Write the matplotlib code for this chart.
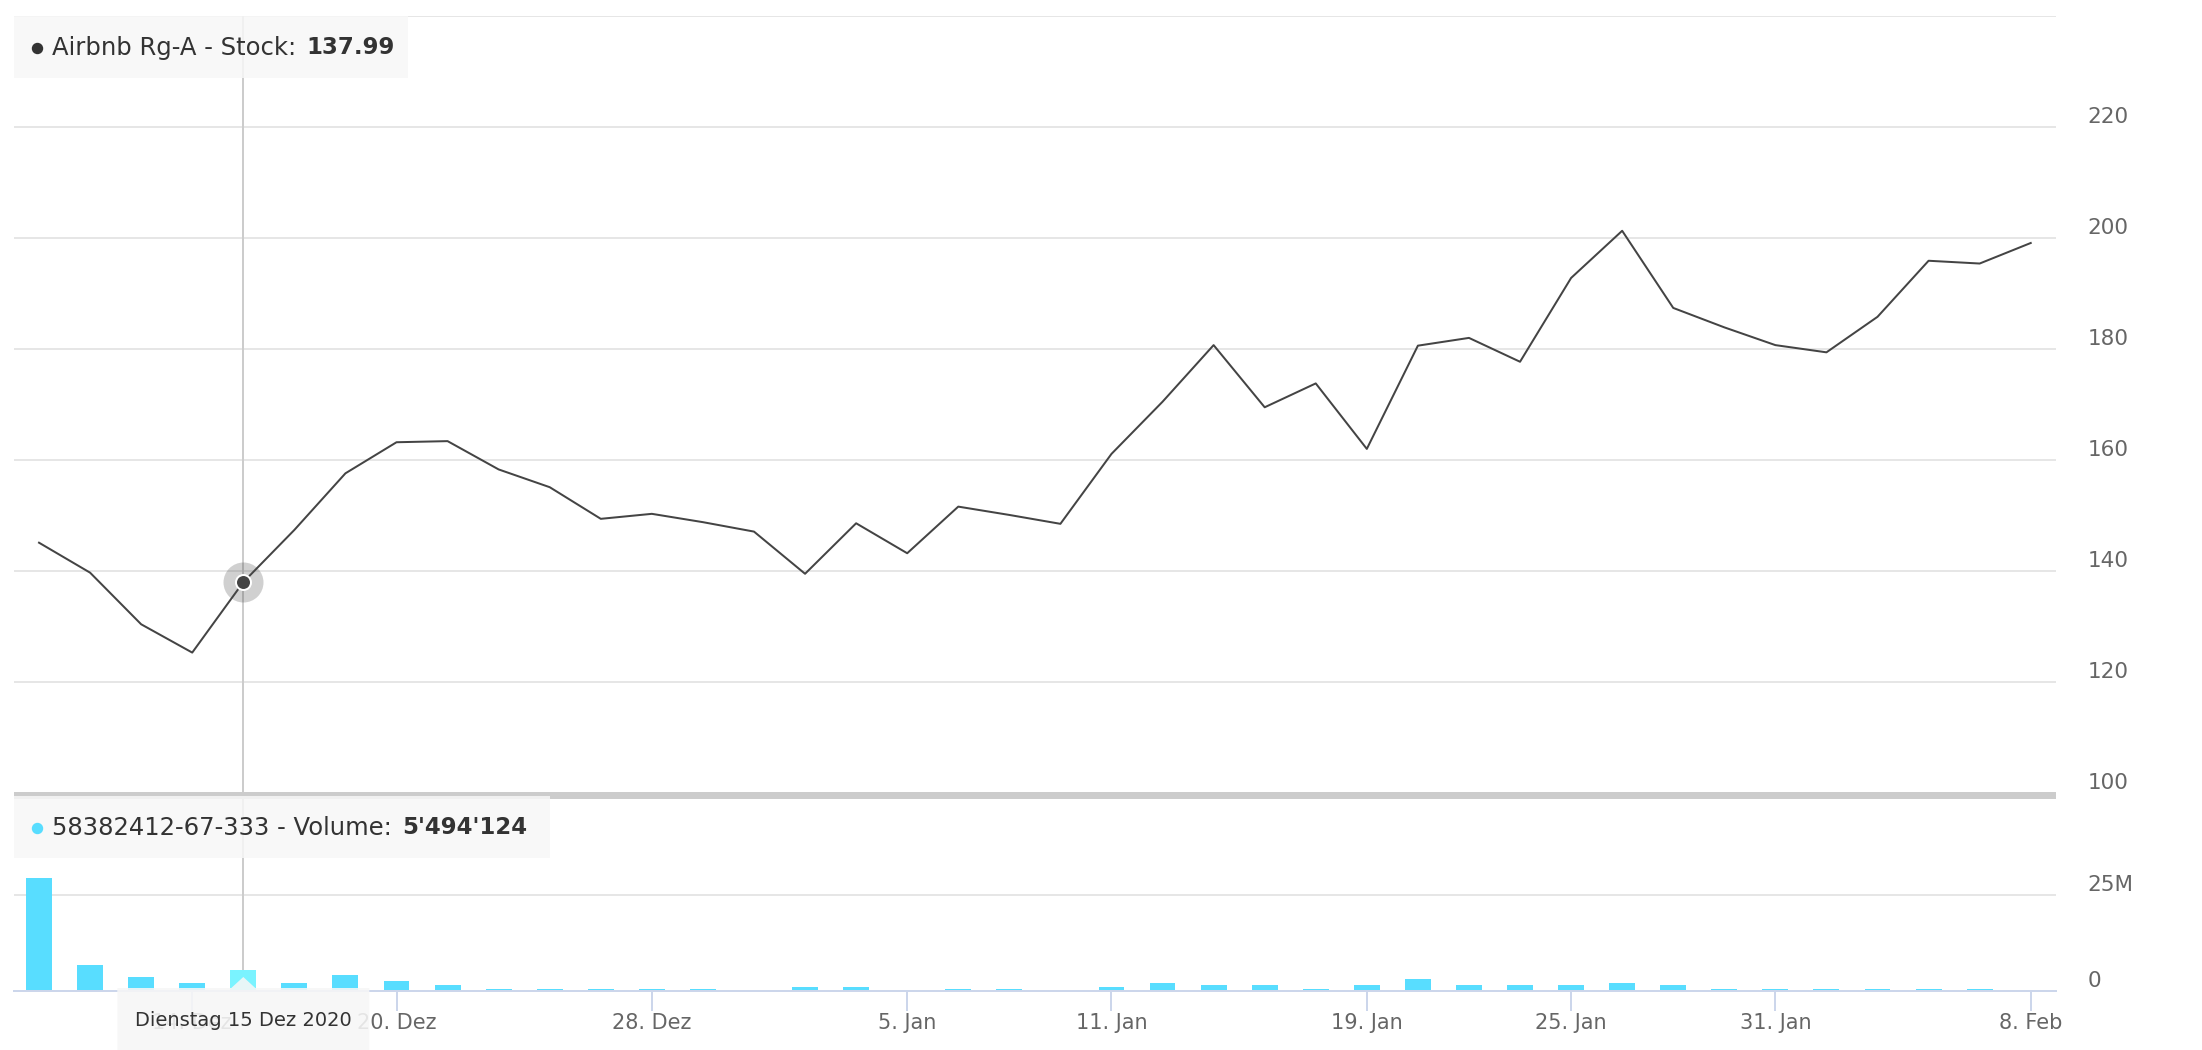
import numpy as np
import matplotlib
matplotlib.use("Agg")
import matplotlib.pyplot as plt
from matplotlib.patches import Rectangle, Polygon
from matplotlib.lines import Line2D
from matplotlib.transforms import ScaledTranslation

# ---------- Data ----------
price = [145.1, 139.7, 130.4, 125.3, 137.99, 147.4, 157.6, 163.2, 163.4, 158.3,
         155.1, 149.4, 150.3, 148.8, 147.1, 139.5, 148.6, 143.2, 151.6, 150.1,
         148.5, 161.1, 170.5, 180.7, 169.5, 173.8, 162.0, 180.6, 182.0, 177.7,
         192.8, 201.3, 187.4, 183.9, 180.7, 179.4, 185.8, 195.9, 195.4, 199.1]
# volume in millions
volume = [29.3, 6.8, 3.6, 2.1, 5.494124, 2.1, 4.2, 2.6, 1.6, 0.5,
          0.5, 0.5, 0.5, 0.5, 0.0, 1.0, 1.0, 0.0, 0.5, 0.5,
          0.0, 1.0, 2.1, 1.6, 1.6, 0.5, 1.6, 3.1, 1.6, 1.6,
          1.6, 2.1, 1.6, 0.5, 0.5, 0.5, 0.5, 0.5, 0.5, 0.0]
tick_pos = [3, 7, 12, 17, 21, 26, 30, 34, 39]
tick_labels = ["14. Dez", "20. Dez", "28. Dez", "5. Jan", "11. Jan",
               "19. Jan", "25. Jan", "31. Jan", "8. Feb"]
price_ticks = [100, 120, 140, 160, 180, 200, 220, 240]
price_tick_labels = ["100", "120", "140", "160", "180", "200", "220", ""]
vol_ticks = [0, 25]
vol_tick_labels = ["0", "25M"]
sel = 4  # hovered point
sel_date = "Dienstag 15 Dez 2020"
stock_name = "Airbnb Rg-A - Stock:"
vol_name = "58382412-67-333 - Volume:"
vol_value = "5'494'124"

# ---------- Styles ----------
LINE = "#444444"
BAR = "#58ddff"
BAR_HOVER = "#7af3ff"
GRID = "#e6e6e6"
LABEL = "#666666"
AXIS = "#ccd6eb"
TXT = "#333333"
PX = 0.72  # one pixel in points at dpi 100

W, H = 2202, 1050
fig = plt.figure(figsize=(W / 100, H / 100), dpi=100)


def rect(x0, y0, x1, y1):
    return [x0 / W, 1 - y1 / H, (x1 - x0) / W, (y1 - y0) / H]


def fpt(x, y):
    return (x / W, 1 - y / H)


ax1 = fig.add_axes(rect(14, 16, 2056, 793))
ax2 = fig.add_axes(rect(14, 798.7, 2056, 990.7), sharex=ax1)
x = np.arange(len(price))

# ---------- Price pane ----------
ax1.plot(x, price, color=LINE, lw=2 * PX, zorder=3)
ax1.axvline(sel, color="#cccccc", lw=2 * PX, zorder=1)
ax1.plot(sel, price[sel], "o", ms=40 * PX, color=LINE, alpha=0.25, mec="none", zorder=4)
ax1.plot(sel, price[sel], "o", ms=15 * PX, mfc=LINE, mec="white", mew=2 * PX, zorder=5)
ax1.set_xlim(-0.49, len(price) - 1 + 0.495)
ax1.set_ylim(100, 240)
ax1.set_yticks(price_ticks, price_tick_labels)
ax1.grid(axis="y", color=GRID, lw=2 * PX)
ax1.set_axisbelow(True)
ax1.tick_params(axis="y", length=0, pad=22.5, labelsize=15.5, labelcolor=LABEL,
                left=False, labelleft=False, right=True, labelright=True)
ax1.tick_params(axis="x", bottom=False, labelbottom=False)
for s in ax1.spines.values():
    s.set_visible(False)

# ---------- Volume pane ----------
colors = [BAR_HOVER if i == sel else BAR for i in x]
ax2.bar(x, volume, width=0.507, color=colors, zorder=2)
ax2.axvline(sel, color="#cccccc", lw=2 * PX, zorder=1)
ax2.set_ylim(0, 50)
ax2.set_yticks(vol_ticks, vol_tick_labels)
ax2.grid(axis="y", color=GRID, lw=2 * PX)
ax2.set_axisbelow(True)
ax2.tick_params(axis="y", length=0, pad=22.5, labelsize=15.5, labelcolor=LABEL,
                left=False, labelleft=False, right=True, labelright=True)
ax2.set_xticks(tick_pos, tick_labels)
ax2.tick_params(axis="x", length=20 * PX, width=2 * PX, color=AXIS, pad=2,
                labelsize=15, labelcolor=LABEL)
for k, s in ax2.spines.items():
    s.set_visible(k == "bottom")
ax2.spines["bottom"].set_color(AXIS)
ax2.spines["bottom"].set_linewidth(2 * PX)

# lift y labels above their grid lines
shift = ScaledTranslation(0, 0.12, fig.dpi_scale_trans)
for lab in ax1.get_yticklabels() + ax2.get_yticklabels():
    lab.set_transform(lab.get_transform() + shift)

# separator between panes
fig.add_artist(Rectangle(fpt(14, 799), 2042 / W, 7 / H, transform=fig.transFigure,
                         color="#cccccc", lw=0, zorder=1))

# ---------- Tooltips ----------
renderer = fig.canvas.get_renderer()


def legend_box(x0, y0, x1, y1, dot, name, value, yc):
    fig.add_artist(Rectangle(fpt(x0, y1), (x1 - x0) / W, (y1 - y0) / H,
                             transform=fig.transFigure, fc="#f7f7f7", ec="none",
                             alpha=0.85, zorder=2))
    fig.add_artist(Line2D([37 / W], [1 - yc / H], marker="o", ms=10 * PX, color=dot,
                          transform=fig.transFigure, zorder=3))
    t = fig.text(52 / W, 1 - yc / H, name, fontsize=17.5, color=TXT, va="center")
    xe = t.get_window_extent(renderer).x1
    fig.text((xe + 10) / W, 1 - yc / H, value, fontsize=16.5, color=TXT,
             va="center", fontweight="bold")


legend_box(14, 16, 408, 78, TXT, stock_name, f"{price[sel]:.2f}", 48)
legend_box(14, 796, 550, 858, BAR, vol_name, vol_value, 827.7)

# date tooltip under the crosshair
cx = ax2.transData.transform((sel, 0))[0]
hw = 126
pts = [fpt(cx - hw, 988), fpt(cx - 12, 988), fpt(cx, 977), fpt(cx + 12, 988),
       fpt(cx + hw, 988), fpt(cx + hw, 1052), fpt(cx - hw, 1052)]
fig.add_artist(Polygon(pts, closed=True, transform=fig.transFigure,
                       fc="#f7f7f7", ec="none", alpha=0.88, zorder=2))
fig.text(cx / W, 1 - 1020 / H, sel_date, fontsize=14, color=TXT,
         ha="center", va="center")

fig.savefig("out.png", dpi=100)
